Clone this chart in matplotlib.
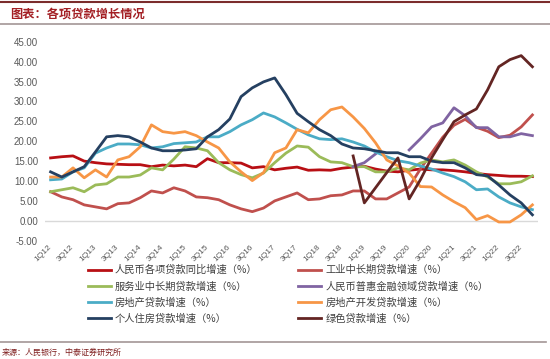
import numpy as np
import matplotlib
matplotlib.use("Agg")
import matplotlib.pyplot as plt
from matplotlib.lines import Line2D

# quarterly categories 1Q12 .. 4Q22
quarters = ['1Q12', '2Q12', '3Q12', '4Q12', '1Q13', '2Q13', '3Q13', '4Q13',
            '1Q14', '2Q14', '3Q14', '4Q14', '1Q15', '2Q15', '3Q15', '4Q15',
            '1Q16', '2Q16', '3Q16', '4Q16', '1Q17', '2Q17', '3Q17', '4Q17',
            '1Q18', '2Q18', '3Q18', '4Q18', '1Q19', '2Q19', '3Q19', '4Q19',
            '1Q20', '2Q20', '3Q20', '4Q20', '1Q21', '2Q21', '3Q21', '4Q21',
            '1Q22', '2Q22', '3Q22', '4Q22']
shown_ticks = quarters[::2]
nan = np.nan

rmb_total = [15.8, 16.1, 16.3, 15.0, 14.6, 14.3, 14.2, 14.1, 14.1, 13.6, 14.0, 13.8,
             14.0, 13.6, 15.6, 14.6, 14.6, 14.5, 13.3, 13.6, 12.8, 13.2, 13.5, 12.7,
             12.8, 12.7, 13.2, 13.5, 13.7, 13.0, 12.5, 12.3, 12.7, 13.0, 12.8, 12.8,
             12.6, 12.3, 11.9, 11.6, 11.4, 11.2, 11.2, 11.1]
industry_mlt = [7.3, 6.0, 5.3, 4.0, 3.5, 3.0, 4.3, 4.5, 5.8, 7.5, 7.0, 8.3,
                7.5, 6.0, 5.8, 5.3, 4.0, 3.0, 2.3, 3.2, 5.0, 6.0, 7.0, 5.3,
                5.5, 6.3, 6.5, 7.5, 7.5, 5.5, 5.5, 7.0, 8.5, 13.0, 17.0, 21.0,
                24.0, 25.5, 23.5, 22.5, 20.9, 21.5, 23.6, 26.6]
service_mlt = [7.3, 7.8, 8.3, 7.3, 9.0, 9.3, 11.0, 11.0, 11.5, 13.3, 12.8, 15.5,
               18.6, 18.3, 17.6, 14.6, 12.8, 11.6, 10.8, 12.0, 14.6, 17.0, 18.8, 18.5,
               16.1, 14.8, 14.6, 13.6, 13.6, 12.3, 12.3, 13.3, 12.8, 14.5, 15.3, 14.8,
               15.3, 14.0, 12.3, 11.0, 9.3, 9.3, 9.8, 11.3]
inclusive = [nan] * 27 + [13.6, 14.6, 16.8, nan, nan, 17.8, 20.6, 23.6, 24.6,
                          28.4, 26.4, 23.4, 23.4, 21.1, 21.1, 21.9, 21.4]
real_estate = [10.3, 10.5, 12.3, 13.3, 17.0, 18.3, 19.3, 19.3, 19.1, 18.3, 18.6, 19.4,
               19.6, 19.8, 21.1, 21.1, 22.4, 24.1, 25.4, 27.1, 26.1, 24.6, 23.0, 21.6,
               20.6, 20.4, 20.6, 19.8, 18.8, 17.3, 16.1, 15.1, 14.6, 13.8, 13.0, 12.0,
               11.1, 9.8, 7.8, 8.0, 6.0, 4.5, 3.5, 2.8]
developer = [11.0, 11.0, 13.3, 10.8, 12.8, 11.0, 15.3, 16.1, 18.6, 24.1, 22.4, 22.0,
             22.4, 21.4, 19.8, 18.3, 14.8, 12.3, 10.1, 12.1, 17.1, 18.3, 22.9, 22.1,
             25.4, 27.9, 28.6, 26.1, 23.2, 19.6, 15.3, 13.8, 12.0, 8.6, 8.5, 6.5,
             4.8, 3.3, 0.3, 1.3, -0.3, -0.3, 1.5, 4.0]
mortgage = [12.3, 11.0, 12.3, 13.6, 17.3, 21.1, 21.4, 21.1, 19.8, 18.3, 17.6, 17.6,
            17.8, 18.1, 21.1, 22.9, 25.6, 31.2, 33.4, 34.9, 35.9, 31.7, 27.0, 24.9,
            22.9, 21.4, 19.3, 18.3, 18.1, 17.6, 17.1, 17.1, 16.1, 16.1, 15.0, 14.6,
            14.6, 13.3, 11.6, 11.3, 9.0, 6.5, 4.5, 1.5]
green = [nan] * 27 + [16.3, 4.5, 8.3, 12.1, 15.8, 5.5, 10.3, 15.8, 20.4,
                      24.9, 26.6, 28.1, 32.9, 38.7, 40.5, 41.5, 38.7]

series = [
    ('人民币各项贷款同比增速（%）', rmb_total, '#B80F14'),
    ('工业中长期贷款增速（%）', industry_mlt, '#C0504D'),
    ('服务业中长期贷款增速（%）', service_mlt, '#9BBB59'),
    ('人民币普惠金融领域贷款增速（%）', inclusive, '#8064A2'),
    ('房地产贷款增速（%）', real_estate, '#4BACC6'),
    ('房地产开发贷款增速（%）', developer, '#F79646'),
    ('个人住房贷款增速（%）', mortgage, '#254061'),
    ('绿色贷款增速（%）', green, '#632523'),
]

W, H = 550, 359
fig = plt.figure(figsize=(W / 100, H / 100), dpi=100)
cjk = ['Noto Sans CJK SC', 'DejaVu Sans']

def fx(px):
    return px / W

def fy(py):
    return 1 - py / H

ax = fig.add_axes([fx(45), fy(240.7), fx(538) - fx(45), fy(41.7) - fy(240.7)])
x = np.arange(len(quarters))
handles = []
for name, vals, col in series:
    ln, = ax.plot(x, vals, color=col, lw=2.0, label=name, solid_joinstyle='round')
    handles.append(ln)

ax.axhline(0, color='#D9D9D9', lw=1.0, zorder=0)
ax.set_xlim(-0.5, 43.5)
ax.set_ylim(-5, 45)
ax.set_yticks(np.arange(-5, 46, 5))
ax.set_yticklabels([f'{v:.2f}' for v in np.arange(-5, 46, 5)],
                   fontsize=7, color='#595959', family='Liberation Sans')
ax.set_xticks(x[::2])
ax.set_xticklabels(shown_ticks, rotation=45, ha='right', va='center',
                   rotation_mode='anchor', fontsize=6, color='#595959',
                   family='Liberation Sans')
ax.tick_params(axis='both', length=0)
ax.tick_params(axis='y', pad=5)
ax.tick_params(axis='x', pad=4)
for s in ax.spines.values():
    s.set_visible(False)

# legend, two columns, row-wise reading order
order = [0, 2, 4, 6, 1, 3, 5, 7]
fig.legend([handles[i] for i in order], [series[i][0] for i in order],
           loc='upper left', bbox_to_anchor=(fx(88), fy(265)), ncol=2,
           frameon=False, prop={'family': cjk, 'size': 7.4},
           labelcolor='#404040', handlelength=2.2, handletextpad=0.4,
           columnspacing=4.0, labelspacing=0.56, borderpad=0, borderaxespad=0)

# header / footer decorations
fig.add_artist(Line2D([0, 1], [fy(2), fy(2)], color='#7B2C2C', lw=1.5))
fig.add_artist(Line2D([0, 1], [fy(24), fy(24)], color='#A39696', lw=1.2))
fig.add_artist(Line2D([0, fx(546)], [fy(342), fy(342)], color='#A39696', lw=1.2))
fig.text(fx(10), fy(14), '图表：各项贷款增长情况', family=cjk, fontsize=8.8,
         fontweight='bold', color='#A31F24', va='center', ha='left')
fig.text(fx(2), fy(352), '来源：人民银行，中泰证券研究所', family=cjk, fontsize=5.8,
         color='#7F1F1F', va='center', ha='left')

fig.savefig('out.png', dpi=100)
